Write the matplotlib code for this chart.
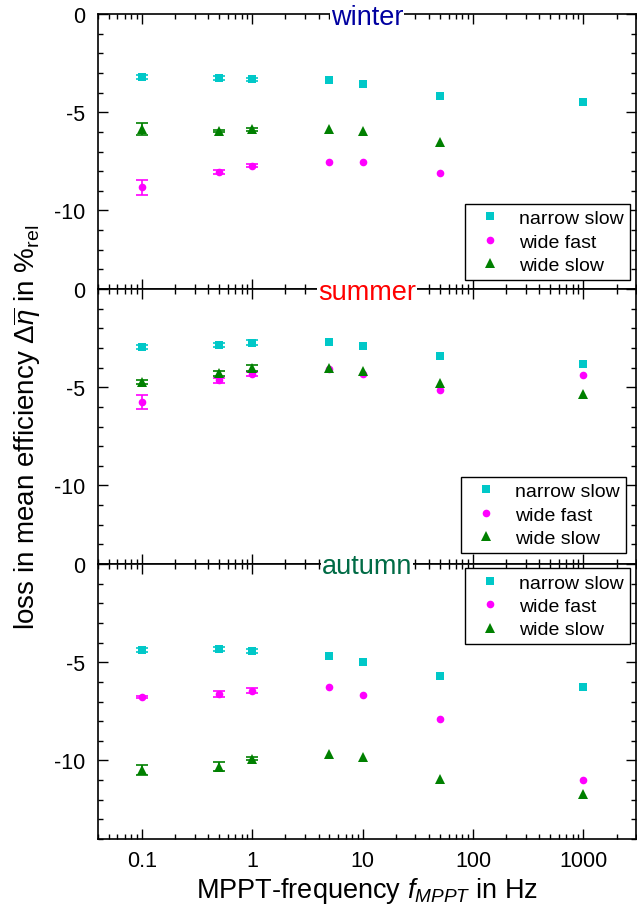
import matplotlib
matplotlib.use("Agg")
import matplotlib.pyplot as plt
import numpy as np
from matplotlib.ticker import MultipleLocator, LogLocator, NullFormatter

plt.rcParams['font.family'] = ['Liberation Sans', 'DejaVu Sans']
plt.rcParams['mathtext.fontset'] = 'custom'
plt.rcParams['mathtext.rm'] = 'Liberation Sans'
plt.rcParams['mathtext.it'] = 'Liberation Sans:italic'
plt.rcParams['axes.unicode_minus'] = False

freq = [0.1, 0.5, 1, 5, 10, 50, 1000]
xtick_vals = [0.1, 1, 10, 100, 1000]
xtick_labels = ["0.1", "1", "10", "100", "1000"]

seasons = ["winter", "summer", "autumn"]
season_colors = ["#0000a0", "#ff0000", "#006b45"]
series_names = ["narrow slow", "wide fast", "wide slow"]

# winter
w_narrow_slow = [-3.2, -3.27, -3.32, -3.37, -3.57, -4.18, -4.48]
w_narrow_slow_err = [0.1, 0.1, 0.08, 0, 0, 0, 0]
w_wide_fast = [-8.82, -8.04, -7.73, -7.53, -7.51, -8.1, np.nan]
w_wide_fast_err = [0.37, 0.08, 0.08, 0, 0, 0, 0]
w_wide_slow = [-5.84, -5.96, -5.87, -5.84, -5.97, -6.51, np.nan]
w_wide_slow_err = [0.3, 0.05, 0.08, 0, 0, 0, 0]

# summer
s_narrow_slow = [-2.96, -2.84, -2.74, -2.71, -2.91, -3.42, -3.84]
s_narrow_slow_err = [0.1, 0.1, 0.12, 0, 0, 0, 0]
s_wide_fast = [-5.75, -4.65, -4.35, -4.06, -4.35, -5.14, -4.4]
s_wide_fast_err = [0.35, 0.12, 0.1, 0, 0, 0, 0]
s_wide_slow = [-4.72, -4.3, -4.03, -4.03, -4.16, -4.79, -5.35]
s_wide_slow_err = [0.1, 0.15, 0.15, 0, 0, 0, 0]

# autumn
a_narrow_slow = [-4.38, -4.33, -4.43, -4.67, -4.97, -5.69, -6.24]
a_narrow_slow_err = [0.08, 0.08, 0.08, 0, 0, 0, 0]
a_wide_fast = [-6.79, -6.62, -6.45, -6.28, -6.65, -7.87, -11.0]
a_wide_fast_err = [0.05, 0.15, 0.12, 0, 0, 0, 0]
a_wide_slow = [-10.49, -10.31, -9.92, -9.65, -9.82, -10.93, -11.71]
a_wide_slow_err = [0.25, 0.25, 0.08, 0, 0, 0, 0]

data = [
    [(w_narrow_slow, w_narrow_slow_err), (w_wide_fast, w_wide_fast_err), (w_wide_slow, w_wide_slow_err)],
    [(s_narrow_slow, s_narrow_slow_err), (s_wide_fast, s_wide_fast_err), (s_wide_slow, s_wide_slow_err)],
    [(a_narrow_slow, a_narrow_slow_err), (a_wide_fast, a_wide_fast_err), (a_wide_slow, a_wide_slow_err)],
]
markers = ["s", "o", "^"]
colors = ["#00c8c8", "#ff00ff", "#008000"]
msizes = [6, 5.5, 6.5]

# legend corner (axes coords) and loc per panel
legend_pos = [("lower right", (0.989, 0.033)),
              ("lower right", (0.981, 0.040)),
              ("upper right", (0.989, 0.985))]
title_offset = [-10, -10, -9]

fig = plt.figure(figsize=(6.37, 9.2), dpi=100)
L, R, T, B = 98 / 637, 636 / 637, 1 - 15 / 920, 1 - 840 / 920
h = (T - B) / 3

for i in range(3):
    ax = fig.add_axes([L, T - (i + 1) * h, R - L, h])
    handles = []
    fx = np.array(freq, dtype=float)
    for (vals, err), m, c, ms, name in zip(data[i], markers, colors, msizes, series_names):
        vals = np.array(vals, dtype=float)
        err = np.array(err, dtype=float)
        mask = err > 0
        ax.errorbar(fx[mask], vals[mask], yerr=err[mask], fmt="none", ecolor=c,
                    elinewidth=1.2, capsize=4, capthick=1.2)
        ln, = ax.plot(fx, vals, ls="none", marker=m, color=c, markersize=ms,
                      markeredgewidth=0, label=name)
        handles.append(ln)

    ax.set_xscale("log")
    ax.set_xlim(0.04, 3000)
    ax.set_ylim(-14, 0)
    ax.yaxis.set_minor_locator(MultipleLocator(1))
    ax.set_yticks([0, -5, -10])
    ax.set_yticklabels(["0", "-5", "-10"])
    ax.xaxis.set_minor_locator(LogLocator(base=10, subs=np.arange(2, 10)))
    ax.xaxis.set_minor_formatter(NullFormatter())
    ax.set_xticks(xtick_vals)
    if i == 2:
        ax.set_xticklabels(xtick_labels)
    else:
        ax.set_xticklabels([])
    ax.tick_params(which="both", direction="in", top=True, right=True,
                   labelsize=15.5, width=1)
    ax.tick_params(which="major", length=7)
    ax.tick_params(which="minor", length=3.5)
    ax.tick_params(axis="y", pad=9)
    ax.tick_params(axis="x", pad=8)
    for sp in ax.spines.values():
        sp.set_linewidth(1.2)

    ax.annotate(seasons[i], xy=(0.5, 1.0), xycoords="axes fraction",
                xytext=(0, title_offset[i] * 0.72), textcoords="offset points",
                ha="center", va="baseline", fontsize=19.5, color=season_colors[i],
                bbox=dict(facecolor="white", edgecolor="none", pad=0.5),
                annotation_clip=False, zorder=10)

    loc, anchor = legend_pos[i]
    leg = ax.legend(handles=handles, loc=loc, bbox_to_anchor=anchor,
                    borderaxespad=0, fontsize=14, frameon=True, fancybox=False,
                    edgecolor="black", framealpha=1, handlelength=2.0,
                    handletextpad=0.5, labelspacing=0.3, borderpad=0.3)
    leg.get_frame().set_linewidth(1.0)

    if i == 2:
        ax.set_xlabel(r"MPPT-frequency $f_{MPPT}$ in Hz", fontsize=19.5, labelpad=3)
    if i == 1:
        ax.set_ylabel(r"loss in mean efficiency $\mathit{\Delta}\overline{\eta}$ in %$_{\mathrm{rel}}$",
                      fontsize=20, labelpad=8)

fig.savefig("out.png", dpi=100)
